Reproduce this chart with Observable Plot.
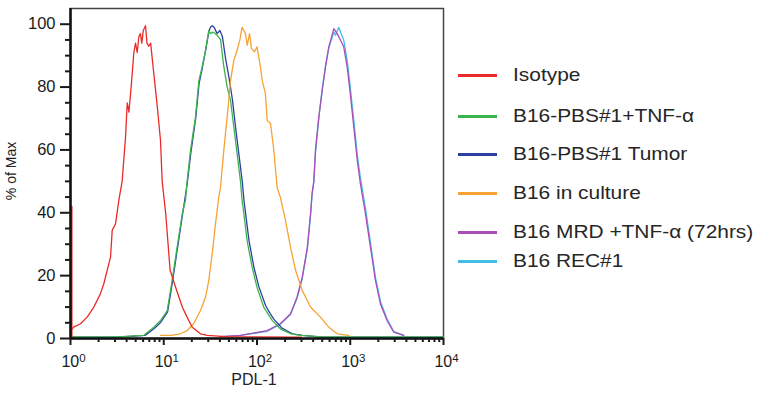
<!DOCTYPE html>
<html>
<head>
<meta charset="utf-8">
<script src="https://cdn.jsdelivr.net/npm/d3@7"></script>
<script src="https://cdn.jsdelivr.net/npm/@observablehq/plot@0.6"></script>
<style>
  html, body { margin: 0; padding: 0; background: #fff; }
  #wrap { position: relative; width: 762px; height: 396px; font-family: "Liberation Sans", Arial, sans-serif; color: #222; }
  #wrap svg { position: absolute; left: 0; top: 0; }
  .lab { position: absolute; white-space: nowrap; line-height: 1; }
  .leg-row { position: absolute; left: 458px; height: 24px; }
  .leg-line { position: absolute; left: 0; top: 11px; width: 39px; height: 2.5px; }
  .leg-text { position: absolute; left: 55px; top: 0; font-size: 19px; line-height: 24px; transform: scaleX(1.1); transform-origin: left center; white-space: nowrap; color: #262626; }
</style>
</head>
<body>
<div id="wrap"></div>
<script>
// ---- data (PDL-1 intensity, % of Max) ----
const seriesNames = ["Isotype", "B16-PBS#1+TNF-\u03b1", "B16-PBS#1 Tumor", "B16 in culture", "B16 MRD +TNF-\u03b1 (72hrs)", "B16 REC#1"];
const seriesColors = ["#ea2b27", "#3cb44e", "#2c40a3", "#f7a235", "#ab4db9", "#43bde6"];

const isotypeSpike = [[1.02, 42]];
const isotype = [[1.04,3],[1.08,3.6],[1.28,4.7],[1.51,6.8],[1.78,10],[2.09,14.2],[2.28,17.5],[2.69,26],[2.80,34.4],[3.04,36.5],[3.30,44],[3.58,50],[3.89,64],[4.06,75],[4.23,72],[4.47,80],[4.78,91],[4.98,94],[5.19,91],[5.41,96],[5.62,97],[5.82,94],[6.03,98],[6.37,99.5],[6.61,94],[6.92,93],[7.24,94],[7.59,88],[8.51,74],[9.23,63],[9.62,50],[10.5,39.7],[11.7,21.7],[13.4,16.3],[15.8,10],[17.8,6.8],[20.2,3.6],[24.8,1.5],[29.2,1],[50,0.5],[100,0.5],[300,0.4]];
const pbsTnf = [[1,0.5],[3.16,0.5],[6.11,1],[7.83,3.6],[9.23,5.7],[10.9,8.9],[12.3,18.5],[13.9,29],[15.8,39.7],[17.1,44],[17.8,50],[19.4,60],[21.9,70.5],[23.8,82],[25.8,86.4],[28.1,91.7],[30.4,98],[31.6,97],[33.9,97.5],[37.4,96.5],[40.7,95],[44.1,86.4],[47.9,80],[52.0,75.8],[56.4,67.3],[61.2,58.8],[66.5,50],[69.2,44],[72.3,39.7],[78.5,31],[88.7,22.7],[100,16.3],[118,10],[146,5.7],[179,3],[229,1.5],[295,1],[500,0.5],[10000,0.5]];
const pbsTumor = [[1,0.4],[3.16,0.4],[6.3,1],[7.9,3.2],[9.3,5.2],[11,8.5],[12.4,18],[14,28.5],[15.9,39.5],[17.8,49],[19.5,59],[22,70],[23.9,81],[25.9,86],[28.2,92],[30.4,97.5],[31.6,99],[33.1,99.5],[34.7,99],[37.4,97],[40,98],[42.6,96],[46.1,89],[50.1,83],[54.5,76],[59,67],[64,58.5],[69.5,50],[72.4,44],[75.7,39.5],[82.2,31],[92.9,22.5],[104.7,16.5],[123.6,10.5],[138,8],[153,6],[187,3.2],[240,1.5],[309,1],[500,0.4],[10000,0.4]];
const inCulture = [[9.23,1],[12,1],[15.1,1.5],[17.8,2.5],[20.9,4.7],[24.8,8.9],[28.1,13.2],[30.4,18.5],[33.1,27],[35.9,36.5],[38.9,45],[40.6,48],[44.1,60],[47.9,70.5],[52.0,82],[56.4,88.5],[61.2,91.7],[65.5,95],[69.2,99],[75.3,97],[78.5,93.3],[83.2,97],[87.1,92.3],[94.0,91.2],[100,92.8],[108.9,86.4],[113.8,82],[123,78],[128.5,69.4],[139.6,68.4],[151.4,60],[164.4,48],[177.8,45],[202,37.6],[229,29],[259,21.7],[305.5,15.3],[375,10],[479,6.8],[589,3.6],[724,1.5],[966,1]];
const mrdTnf = [[40,0.6],[66.5,1],[128.8,2.5],[177.8,4.7],[229,7.9],[269,13.2],[305.5,19.5],[346.7,29],[375,39.7],[389,46],[407,50],[423.6,60],[460,70.5],[501,79],[543,86.4],[589,92.8],[667,98.6],[724,97],[785,95],[851,92.8],[927,86.4],[1000,78],[1091,67.3],[1189,56.7],[1288,49],[1455,39.7],[1648,29],[1862,18.5],[2109,11],[2483,5.7],[2931,2],[3750,1]];
const rec1 = [[40,0.5],[66.5,1],[128.8,2.3],[177.8,4.5],[229,7.6],[269,12.8],[305.5,19],[346.7,28.5],[375,39],[389,45.5],[407,50],[423.6,59],[460,70],[501,79.5],[543,86.8],[589,92.5],[667,97.5],[695,96.5],[753,99],[800,97],[851,95],[927,88.4],[1000,80],[1091,69.5],[1189,58.5],[1288,51],[1455,41.5],[1648,30.5],[1862,19.5],[2109,11.8],[2483,6.2],[2931,2.2],[3750,1]];

const xMajor = [1, 10, 100, 1000, 10000];
const xMinor = [2,3,4,5,6,7,8,9,20,30,40,50,60,70,80,90,200,300,400,500,600,700,800,900,2000,3000,4000,5000,6000,7000,8000,9000];
const yMajor = [0, 20, 40, 60, 80, 100];
const yMinor = [5,10,15,25,30,35,45,50,55,65,70,75,85,90,95];

// ---- drawing ----
const series = [isotype, pbsTnf, pbsTumor, inCulture, mrdTnf, rec1];
const drawOrder = [5, 4, 2, 1, 3, 0];
const lineMarks = drawOrder.map(i => Plot.line(series[i], {x: d => d[0], y: d => d[1], stroke: seriesColors[i], strokeWidth: 1.3}));

const chart = Plot.plot({
  width: 762, height: 396,
  marginLeft: 70, marginRight: 319, marginTop: 8, marginBottom: 58,
  x: {type: "log", domain: [1, 10000]},
  y: {domain: [0, 105]},
  style: {fontFamily: "Liberation Sans, Arial, sans-serif", color: "#1a1a1a", background: "white", overflow: "visible"},
  marks: [
    Plot.frame({stroke: "#444", strokeWidth: 1.5}),
    ...lineMarks,
    Plot.ruleX(isotypeSpike, {x: d => d[0], y1: 0, y2: d => d[1], stroke: seriesColors[0], strokeWidth: 2.5}),
    Plot.ruleX([1], {stroke: "#111", strokeWidth: 2.5}),
    Plot.ruleY([0], {stroke: "#111", strokeWidth: 2.5}),
    Plot.axisY({ticks: yMajor, tickSize: 10, tickPadding: 5, strokeWidth: 2, fontSize: 16.5, label: null}),
    Plot.axisY({ticks: yMinor, tickSize: 5, strokeWidth: 2, tickFormat: () => "", label: null}),
    Plot.axisX({ticks: xMajor, tickSize: 7, tickPadding: 10, strokeWidth: 2, fontSize: 16, tickFormat: d => String(Math.round(Math.log10(d))), label: null}),
    Plot.axisX({ticks: xMinor, tickSize: 4, strokeWidth: 2, tickFormat: () => "", label: null})
  ]
});

const ns = "http://www.w3.org/2000/svg";
chart.querySelectorAll('g[aria-label="x-axis tick label"] text, g[aria-label="y-axis tick label"] text').forEach(t => {
  if (t.textContent === "") t.remove();
});
chart.querySelectorAll('g[aria-label="x-axis tick label"] text').forEach(t => {
  const e = t.textContent;
  t.textContent = "";
  const a = document.createElementNS(ns, "tspan");
  a.textContent = "10";
  const b = document.createElementNS(ns, "tspan");
  b.textContent = e;
  b.setAttribute("dy", "-0.42em");
  b.setAttribute("font-size", "11.5");
  t.append(a, b);
  t.setAttribute("dx", "3");
});

const wrap = document.getElementById("wrap");
wrap.appendChild(chart);

// axis titles
const xl = document.createElement("div");
xl.className = "lab";
xl.textContent = "PDL-1";
xl.style.cssText += "left:254px;top:380px;font-size:16px;transform:translate(-50%,-50%);";
wrap.appendChild(xl);

const yl = document.createElement("div");
yl.className = "lab";
yl.textContent = "% of Max";
yl.style.cssText += "left:11px;top:171px;font-size:14px;transform:translate(-50%,-50%) rotate(-90deg);";
wrap.appendChild(yl);

// legend
const legendY = [75, 116, 154, 193, 232, 261];
seriesNames.forEach((name, i) => {
  const row = document.createElement("div");
  row.className = "leg-row";
  row.style.top = (legendY[i] - 12) + "px";
  const ln = document.createElement("div");
  ln.className = "leg-line";
  ln.style.background = seriesColors[i];
  const tx = document.createElement("div");
  tx.className = "leg-text";
  tx.textContent = name;
  row.append(ln, tx);
  wrap.appendChild(row);
});
</script>
</body>
</html>
